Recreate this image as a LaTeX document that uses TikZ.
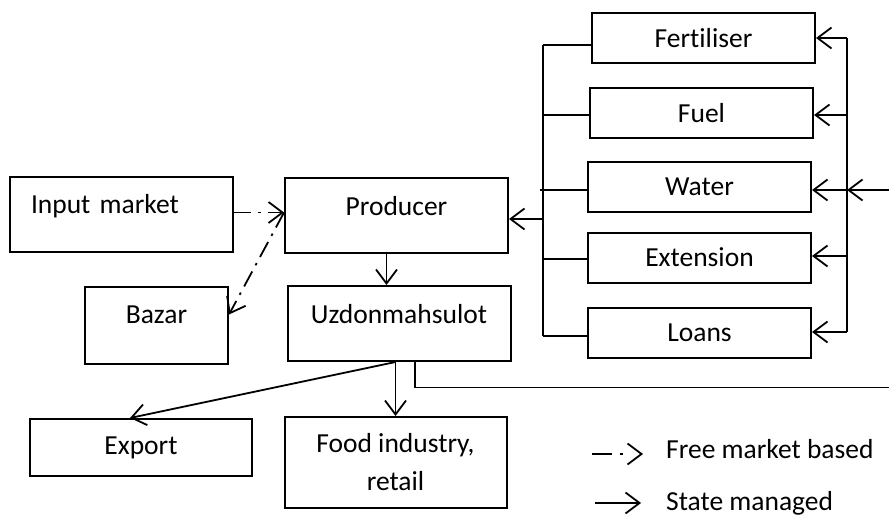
\documentclass[tikz,border=0pt]{standalone}
\usepackage{fontspec}
\setmainfont{Carlito}[Ligatures=NoCommon]
\usetikzlibrary{arrows.meta}

\tikzset{
  box/.style={draw, line width=2pt, inner sep=0pt, align=center,
    font=\fontsize{27.5}{38}\selectfont},
  sidebox/.style={box, minimum width=223pt, minimum height=50pt},
  flow/.style={line width=1.8pt, -{Straight Barb[length=14pt,width=21pt]}},
  freeflow/.style={flow, dash pattern=on 17pt off 7pt on 2.5pt off 7pt},
  bus/.style={line width=1.5pt},
  legtext/.style={inner sep=0pt, anchor=west, font=\fontsize{27.5}{38}\selectfont},
}

\begin{document}
\begin{tikzpicture}[x=1pt,y=-1pt]
  \useasboundingbox (0,0) rectangle (889,516);

  % market side
  \node[box, text width=181pt, inner xsep=21pt, align=left,
    text height=36pt, text depth=39pt] (input) at (121.5,214.5) {Input market};
  \node[box, minimum width=143pt, text height=36pt, text depth=41pt] (bazar) at (156.5,325.5) {Bazar};

  % producer and output
  \node[box, minimum width=223pt, text height=37pt, text depth=38pt] (producer) at (396.5,215.5) {Producer};
  \node[box, minimum width=223pt, text height=37pt, text depth=38pt] (uzdon) at (399,323.5) {Uzdonmahsulot};
  \node[box, minimum width=222pt, minimum height=57pt] (export) at (141,447.5) {Export};
  \node[box, minimum width=222pt, minimum height=91pt] (food) at (395.5,462.5) {Food industry,\\retail};

  % state supplied inputs
  \node[sidebox] (fert) at (703.5,38) {Fertiliser};
  \node[sidebox] (fuel) at (701.5,113) {Fuel};
  \node[sidebox] (water) at (699.5,187) {Water};
  \node[sidebox] (ext) at (699.5,257.5) {Extension};
  \node[sidebox] (loans) at (699.5,332.5) {Loans};

  % left bus into the producer
  \coordinate (lf) at (543,45);
  \coordinate (lu) at (543,115);
  \coordinate (lw) at (540,190);
  \coordinate (le) at (543,259);
  \coordinate (ll) at (543,336);
  \coordinate (lp) at (543,219);
  \draw[bus] (lf) -- (ll);
  \draw[bus] (lf) -- (lf -| fert.west);
  \draw[bus] (lu) -- (lu -| fuel.west);
  \draw[line width=1.1pt] (lw) -- (lw -| water.west);
  \draw[bus] (le) -- (le -| ext.west);
  \draw[bus] (ll) -- (ll -| loans.west);
  \draw[flow] (lp) -- (lp -| producer.east);

  % right bus from the state
  \coordinate (rf) at (847,38);
  \coordinate (ru) at (847,115);
  \coordinate (rw) at (847,190);
  \coordinate (re) at (847,256);
  \coordinate (rl) at (847,332);
  \coordinate (rin) at (889,190);
  \draw[bus] (rf) -- (rl);
  \draw[flow] (rf) -- (rf -| fert.east);
  \draw[flow] (ru) -- (ru -| fuel.east);
  \draw[flow] (rw) -- (rw -| water.east);
  \draw[flow] (re) -- (re -| ext.east);
  \draw[flow] (rl) -- (rl -| loans.east);
  \draw[flow] (rin) -- (rw);

  % free market links
  \draw[freeflow] ([yshift=2pt]input.east) -- ([yshift=2pt]input.east -| producer.west);
  \draw[freeflow] ([yshift=3pt]producer.west) -- ([yshift=11pt]bazar.east);

  % state managed flows
  \draw[flow] ([xshift=-10pt]producer.south) -- ([xshift=-10pt]producer.south |- uzdon.north);
  \draw[flow] (food.north |- uzdon.south) -- (food.north);
  \draw[flow] (food.north |- uzdon.south) -- ([xshift=-11pt]export.north);
  \coordinate (sout) at (889,387.5);
  \draw[bus] ([xshift=16pt]uzdon.south) |- (sout);

  % legend
  \coordinate (fa) at (592,454);
  \coordinate (fb) at (643,454);
  \coordinate (sa) at (595,503);
  \coordinate (sb) at (641,503);
  \draw[flow, dash pattern=on 20pt off 8pt on 2.5pt off 20pt] (fa) -- (fb);
  \draw[flow] (sa) -- (sb);
  \node[legtext] (freetxt) at (666,449) {Free market based};
  \node[legtext] (statetxt) at (666,503) {State managed};
\end{tikzpicture}
\end{document}
